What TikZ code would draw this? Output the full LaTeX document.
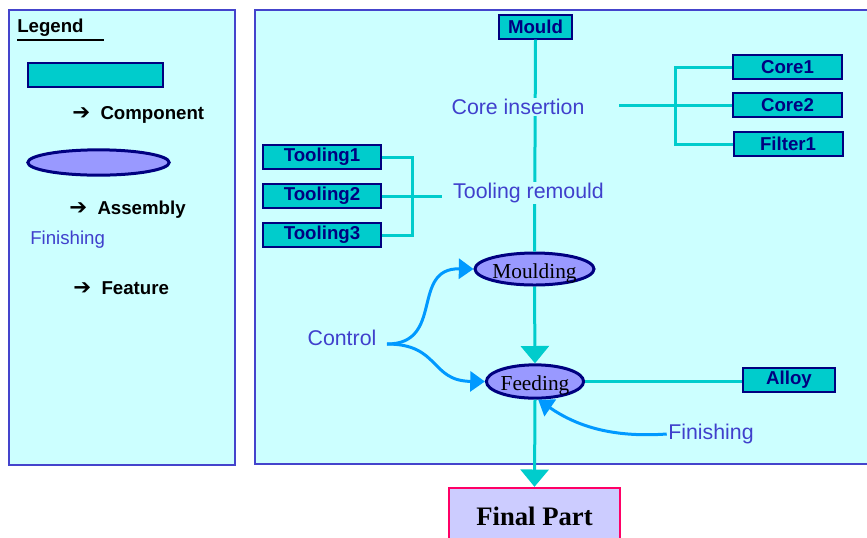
\documentclass[tikz,border=0pt]{standalone}
\usepackage{fontspec}
\setmainfont{Liberation Sans}
\newfontfamily\timesfont{Liberation Serif}
\newfontfamily\symfont{DejaVu Sans}
\usetikzlibrary{arrows.meta,shapes.geometric}

\definecolor{panel}{HTML}{CCFFFF}
\definecolor{frame}{HTML}{4444CC}
\definecolor{part}{HTML}{00CCCC}
\definecolor{navy}{HTML}{000080}
\definecolor{assyfill}{HTML}{9999FF}
\definecolor{flow}{HTML}{0099FF}
\definecolor{note}{HTML}{4040CC}
\definecolor{finalfill}{HTML}{CCCCFF}
\definecolor{finaledge}{HTML}{FF0066}

\newcommand{\keyarrow}{{\symfont\bfseries\fontsize{16}{16}\selectfont ➔}\ \ }
\newcommand{\lowtext}[1]{\raisebox{-3pt}[\height][\depth]{#1}}

\begin{document}
\begin{tikzpicture}[x=0.75pt, y=-0.75pt,
    comp/.style={draw=navy, line width=1.5pt, fill=part, inner sep=0pt,
        minimum height=18pt, text=navy, font=\fontsize{14}{16}\selectfont\bfseries},
    assy/.style={ellipse, draw=navy, line width=2.25pt, fill=assyfill, inner sep=0pt,
        font=\timesfont\fontsize{16}{18}\selectfont},
    notetext/.style={text=note, inner sep=1pt, font=\fontsize{16}{19}\selectfont},
    keytext/.style={anchor=west, inner sep=0pt, font=\fontsize{14}{16}\selectfont\bfseries},
    link/.style={draw=part, line width=2.25pt},
    flowline/.style={draw=flow, line width=2.25pt, -{Triangle[length=11pt,width=15pt]}},
    bigtip/.style={-{Triangle[length=13pt,width=21pt]}}
]
    \useasboundingbox (0,0) rectangle (867,537);

    % panels
    \draw[frame, line width=1.5pt, fill=panel] (9,10) rectangle (235,465);
    \draw[frame, line width=1.5pt, fill=panel] (255,10) rectangle (875,464);

    % legend
    \node[keytext] (legend) at (17,28) {Legend};
    \draw[line width=1.5pt] ([yshift=-2pt]legend.south west) -- ++(87,0);
    \node[comp, minimum width=101pt] (keybox) at (95.5,74.5) {};
    \node[keytext] (keycomp) at (72,115) {\keyarrow Component};
    \node[assy, minimum width=106pt, minimum height=19pt] (keyell) at (98.5,162.5) {};
    \node[keytext] (keyassy) at (69,210) {\keyarrow Assembly};
    \node[notetext, anchor=west, inner sep=0pt, font=\fontsize{14}{16}\selectfont] (keyfin) at (30,240) {Finishing};
    \node[keytext] (keyfeat) at (73,288) {\keyarrow Feature};

    % components
    \node[comp, minimum width=54.75pt] (mould) at (535.5,26.5) {Mould};
    \node[comp, minimum width=81.75pt] (core1) at (787.5,67) {Core1};
    \node[comp, minimum width=81.75pt] (core2) at (787.5,105) {Core2};
    \node[comp, minimum width=81.75pt] (filter1) at (788,144) {Filter1};
    \node[comp, minimum width=88.5pt] (tool1) at (322,157) {Tooling1};
    \node[comp, minimum width=88.5pt] (tool2) at (322,196) {Tooling2};
    \node[comp, minimum width=88.5pt] (tool3) at (322,235) {Tooling3};
    \node[comp, minimum width=69pt] (alloy) at (789,380) {Alloy};

    % assemblies
    \node[assy, minimum width=86pt, minimum height=24pt] (moulding) at (534.5,269) {\lowtext{Moulding}};
    \node[assy, minimum width=70.5pt, minimum height=25pt] (feeding) at (535,381.5) {\lowtext{Feeding}};
    \node[draw=finaledge, line width=1.5pt, fill=finalfill, minimum width=128pt, minimum height=43pt,
        font=\timesfont\fontsize{20}{24}\selectfont\bfseries] (final) at (534.5,516.5) {Final Part};

    \coordinate (cj) at (619,105);
    \coordinate (tj) at (442,196);
    \coordinate (cs) at (387,344);

    % links
    \draw[link] (mould.south) -- (moulding.north);
    \draw[link] (core1.west) -- ++(-57,0) |- (filter1.west);
    \draw[link] (core2.west) -- (cj);
    \draw[link] (tool1.east) -- ++(30,0) |- (tool3.east);
    \draw[link] (tool2.east) -- (tj);
    \draw[link, bigtip] (moulding.south) -- (feeding.north);
    \draw[link] (feeding.east) -- (feeding.east -| alloy.west);
    \draw[link, bigtip] (feeding.south) -- (final.north);

    % features
    \node[notetext, fill=panel] (coreins) at (518,107) {Core insertion};
    \node[notetext, fill=panel] (remould) at (528.5,193) {Tooling remould};
    \node[notetext] (control) at (342,338) {Control};
    \node[notetext] (finish) at (711,434) {Finishing};

    \draw[flowline] (cs) .. controls (445,344) and (410,268) .. (moulding.west);
    \draw[flowline] (cs) .. controls (440,344) and (430,381) .. (feeding.west);
    \draw[flowline] (finish.west) .. controls (610,438) and (575,425) .. (feeding.-80);
\end{tikzpicture}
\end{document}
